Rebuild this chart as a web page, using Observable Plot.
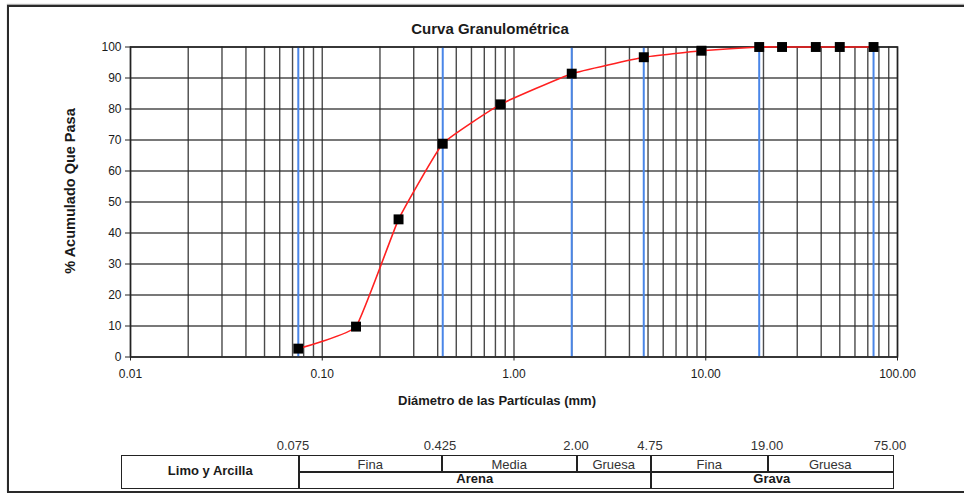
<!DOCTYPE html>
<html>
<head>
<meta charset="utf-8">
<script src="https://cdn.jsdelivr.net/npm/d3@7"></script>
<script src="https://cdn.jsdelivr.net/npm/@observablehq/plot@0.6"></script>
<style>
  html, body { margin: 0; padding: 0; background: #fff; }
  #wrap { position: relative; width: 964px; height: 494px; overflow: hidden; font-family: "Liberation Sans", Arial, sans-serif; color: #1a1a1a; }
  #frame { position: absolute; left: 7px; top: 5px; width: 980px; height: 484px; border-left: 2px solid #2a2a2a; border-top: 2px solid #2a2a2a; border-bottom: 2px solid #2a2a2a; box-shadow: 0 -1px 1px #aaa; pointer-events: none; }
  #chart { position: absolute; left: 0; top: 0; }
  .lbl { position: absolute; white-space: nowrap; }
  #title { left: 490px; top: 28px; transform: translate(-50%, -50%); font-weight: bold; font-size: 15px; }
  #ylabel { left: 70px; top: 191px; transform: translate(-50%, -50%) rotate(-90deg); font-weight: bold; font-size: 14.5px; }
  #xlabel { left: 497px; top: 400px; transform: translate(-50%, -50%); font-weight: bold; font-size: 13px; }
  .cell { position: absolute; box-sizing: border-box; border: 1.5px solid #222; display: flex; align-items: center; justify-content: center; overflow: visible; }
  .top { font-size: 13px; color: #333; }
  .top span { position: relative; top: 1px; }
  .bot { font-size: 13px; font-weight: bold; }
  .bot span { position: relative; top: -1px; }
  .limit { position: absolute; transform: translateX(-50%); font-size: 13px; color: #333; top: 438px; }
</style>
</head>
<body>
<div id="wrap">
  <div id="chart"></div>
  <div id="title" class="lbl"></div>
  <div id="ylabel" class="lbl"></div>
  <div id="xlabel" class="lbl"></div>
  <div id="table"></div>
  <div id="frame"></div>
</div>
<script>
// ---- data ----
const sieveSizes     = [0.075, 0.15, 0.25, 0.425, 0.85, 2.0, 4.75, 9.5, 19, 25, 37.5, 50, 75];
const percentPassing = [2.7, 9.8, 44.4, 68.8, 81.5, 91.4, 96.7, 98.8, 100, 100, 100, 100, 100];
const limitSizes     = [0.075, 0.425, 2.0, 4.75, 19, 75];
const limitLabels    = ["0.075", "0.425", "2.00", "4.75", "19.00", "75.00"];
const xTickValues    = [0.01, 0.1, 1, 10, 100];
const xTickLabels    = ["0.01", "0.10", "1.00", "10.00", "100.00"];
const yTickValues    = [0, 10, 20, 30, 40, 50, 60, 70, 80, 90, 100];
const leftCellText   = "Limo y Arcilla";
const topRowCells    = ["Fina", "Media", "Gruesa", "Fina", "Gruesa"];
const bottomRowCells = ["Arena", "Grava"];
const titleText      = "Curva Granulométrica";
const xLabelText     = "Diámetro de las Partículas (mm)";
const yLabelText     = "% Acumulado Que Pasa";

// ---- layout (pixels) ----
const tableLeft = 121, tableTop = 455, rowH = 16;
const topEdges = [298, 441, 576, 650, 767, 892];
const botEdges = [298, 650, 892];
const limitPos = [293, 440, 576, 650, 767, 890];

const points = sieveSizes.map((d, i) => ({size: d, pct: percentPassing[i]}));
const xLabelMap = new Map(xTickValues.map((d, i) => [d, xTickLabels[i]]));

const chart = Plot.plot({
  width: 964,
  height: 420,
  marginLeft: 130,
  marginRight: 67,
  marginTop: 46.5,
  marginBottom: 63.5,
  style: {background: "transparent", fontFamily: "'Liberation Sans', Arial, sans-serif", fontSize: "12px", color: "#1a1a1a"},
  x: {type: "log", domain: [0.01, 100]},
  y: {domain: [0, 100]},
  marks: [
    Plot.gridX({ticks: 40, stroke: "#2a2a2a", strokeOpacity: 0.85, strokeWidth: 1.4}),
    Plot.gridY({ticks: yTickValues, stroke: "#2a2a2a", strokeOpacity: 0.85, strokeWidth: 1.4}),
    Plot.ruleX(limitSizes, {stroke: "#4a86e8", strokeWidth: 2}),
    Plot.frame({stroke: "#222", strokeWidth: 1.5}),
    Plot.axisX({ticks: xTickValues, tickFormat: (d) => xLabelMap.get(d), tickSize: 4, tickPadding: 8, label: null, stroke: "#222", fill: "#1a1a1a"}),
    Plot.axisY({ticks: yTickValues, tickSize: 5, tickPadding: 4, label: null, stroke: "#222", fill: "#1a1a1a"}),
    Plot.line(points, {x: "size", y: "pct", stroke: "#ff2020", strokeWidth: 1.6, curve: d3.curveCardinal.tension(0.65)}),
    Plot.dot(points, {x: "size", y: "pct", symbol: "square", fill: "#000", r: 5.6})
  ]
});
document.getElementById("chart").appendChild(chart);
document.getElementById("title").textContent = titleText;
document.getElementById("xlabel").textContent = xLabelText;
document.getElementById("ylabel").textContent = yLabelText;

// ---- classification table ----
const table = document.getElementById("table");
function cell(x0, x1, y, h, text, cls) {
  const c = document.createElement("div");
  c.className = "cell " + cls;
  c.style.left = x0 + "px"; c.style.top = y + "px";
  c.style.width = (x1 - x0 + 1.5) + "px"; c.style.height = (h + 1.5) + "px";
  const s = document.createElement("span");
  s.textContent = text;
  c.appendChild(s);
  table.appendChild(c);
}
cell(tableLeft, topEdges[0], tableTop, rowH * 2, leftCellText, "bot");
topRowCells.forEach((t, i) => cell(topEdges[i], topEdges[i + 1], tableTop, rowH, t, "top"));
bottomRowCells.forEach((t, i) => cell(botEdges[i], botEdges[i + 1], tableTop + rowH, rowH, t, "bot"));
limitLabels.forEach((t, i) => {
  const l = document.createElement("div");
  l.className = "limit";
  l.style.left = limitPos[i] + "px";
  l.textContent = t;
  table.appendChild(l);
});
</script>
</body>
</html>
